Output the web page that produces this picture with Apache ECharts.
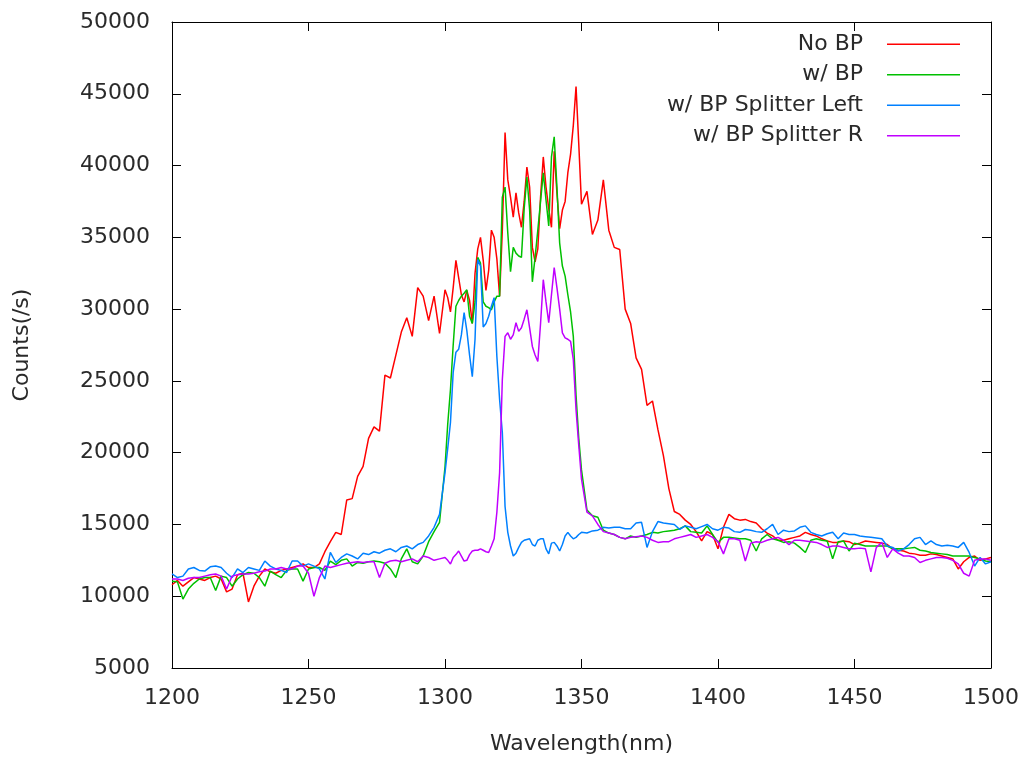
<!DOCTYPE html>
<html>
<head>
<meta charset="utf-8">
<script src="https://cdn.jsdelivr.net/npm/echarts@6/dist/echarts.min.js"></script>
<style>html,body{margin:0;padding:0;background:#fff;}#c{width:1024px;height:760px;}</style>
</head>
<body>
<div id="c"></div>
<script>
// Wavelength samples (nm): 2 nm steps, 1 nm steps across the peak
const wavelengths = [
1200,1202,1204,1206,1208,1210,1212,1214,1216,1218,1220,1222,1224,1226,1228,1230,1232,1234,1236,1238,
1240,1242,1244,1246,1248,1250,1252,1254,1256,1258,1260,1262,1264,1266,1268,1270,1272,1274,1276,1278,
1280,1282,1284,1286,1288,1290,1292,1294,1296,1298,1300,
1301,1302,1303,1304,1305,1306,1307,1308,1309,1310,1311,1312,1313,1314,1315,1316,1317,1318,1319,1320,
1321,1322,1323,1324,1325,1326,1327,1328,1329,1330,1331,1332,1333,1334,1335,1336,1337,1338,1339,1340,
1341,1342,1343,1344,1345,1346,1347,1348,1349,
1350,1352,1354,1356,1358,1360,1362,1364,1366,1368,1370,1372,1374,1376,1378,1380,1382,1384,1386,1388,
1390,1392,1394,1396,1398,1400,1402,1404,1406,1408,1410,1412,1414,1416,1418,1420,1422,1424,1426,1428,
1430,1432,1434,1436,1438,1440,1442,1444,1446,1448,1450,1452,1454,1456,1458,1460,1462,1464,1466,1468,
1470,1472,1474,1476,1478,1480,1482,1484,1486,1488,1490,1492,1494,1496,1498,1500];

const noBP = [
10800,11100,10700,11000,11300,11200,11100,11300,11400,11200,10300,10500,11500,11600,9600,10700,11400,11900,11700,11600,
11800,11900,12000,12100,12250,12000,12000,12250,13100,13800,14450,14300,16700,16800,18350,19050,21000,21800,21500,25400,
25200,26800,28400,29400,28100,31500,30900,29200,30900,28300,31350,
30800,29800,31500,33400,32200,31000,30500,31300,30600,29000,32500,34200,35000,33400,31300,32700,35500,35000,33500,30900,
35500,42300,39000,37800,36400,38100,36700,35700,37500,39900,38500,34300,33300,34200,37800,40600,38500,37000,35700,41000,
38100,35600,36900,37500,39500,40800,42800,45500,41500,
37300,38200,35200,36200,39000,35500,34300,34150,30000,29000,26600,25800,23300,23600,21600,19800,17500,15900,15700,15300,
15000,14500,13850,14500,14300,13300,14800,15700,15400,15300,15350,15200,15100,14700,14400,14200,13900,13900,14000,14100,
14200,14450,14300,14200,14000,13850,13750,13750,13850,13800,13600,13700,13850,13800,13750,13700,13600,13300,13200,13150,
13000,12950,12850,12850,12950,12900,12800,12700,12600,11900,12400,12700,12800,12500,12600,12700];

const withBP = [
11050,11000,9800,10500,10900,11200,11300,11300,10400,11400,11300,10700,11200,11500,11650,11600,11300,10700,11750,11500,
11300,11800,11900,11900,11050,11900,12000,12000,11800,12450,12200,12500,12600,12100,12350,12300,12400,12450,12400,12300,
11900,11300,12600,13300,12400,12250,12800,13800,14500,15150,19000,
22000,24400,27500,30200,30600,30900,31100,31350,29500,29000,30500,33600,33200,30500,30200,30100,29950,30500,30900,30900,
37800,38500,35300,32600,34300,33900,33700,33600,37000,39200,36900,31900,33600,35500,37500,39500,37600,35800,40600,42000,
38500,34600,33000,32300,31000,29800,28100,24000,21000,
18800,16000,15600,15500,14600,14400,14300,14100,14000,14200,14100,14200,14300,14450,14400,14500,14550,14600,14700,14900,
14500,14450,14400,14900,14300,13750,14100,14100,14050,14000,14000,13900,13150,14000,14300,14000,13900,13750,13800,13700,
13400,13050,13900,14000,13900,13850,12600,13800,13850,13150,13700,13600,13500,13500,13500,13500,13500,13300,13300,13300,
13350,13400,13200,13150,13050,13000,12950,12900,12800,12800,12800,12800,12700,12600,12450,12400];

const splitterLeft = [
11550,11300,11400,11900,12000,11800,11750,12050,12100,12000,11600,11300,11900,11650,12000,11900,11800,12450,12100,11900,
11800,11650,12450,12450,12100,12250,12100,11900,11200,13050,12350,12700,12950,12800,12600,13000,12900,13100,13000,13200,
13300,13100,13400,13500,13300,13600,13750,14200,14800,15700,18600,
20300,22100,25600,27000,27200,28200,29750,28500,26800,25300,27900,33450,33000,28750,29000,29500,30200,30800,26700,23700,
21400,16250,14450,13500,12800,13000,13400,13750,13900,13950,14000,13600,13500,13900,14000,14000,13300,12950,13700,13750,
13500,13150,13600,14200,14450,14200,14000,14100,14300,
14450,14400,14550,14600,14800,14750,14800,14800,14700,14700,15100,15150,13400,14500,15200,15100,15050,15000,14650,14900,
14800,14700,14850,15000,14700,14600,14800,14750,14500,14450,14650,14600,14500,14450,14700,15000,14300,14600,14500,14550,
14800,14900,14450,14300,14200,14350,14450,14000,14400,14300,14300,14200,14150,14100,14050,14000,13500,13400,13150,13300,
13600,14000,14100,13600,13850,13600,13500,13550,13500,13400,13750,13050,12100,12700,12250,12400];

const splitterR = [
11200,11200,11100,11250,11300,11300,11400,11500,11550,11400,10500,11400,11500,11550,11550,11600,11700,11750,11900,11900,
12000,11900,11900,12100,12100,11600,10000,11300,12100,12000,12100,12200,12300,12350,12400,12350,12400,12400,11300,12300,
12450,12500,12400,12500,12600,12400,12800,12700,12500,12600,12700,
12500,12250,12700,12900,13150,12800,12450,12500,12900,13150,13200,13200,13300,13200,13100,13050,13500,14000,15850,18600,
25100,28100,28350,27900,28200,29050,28450,28700,29300,29950,28700,27400,26800,26350,29000,32050,30500,29050,31000,32900,
31500,30000,28350,28000,27900,27750,26500,23000,20500,
18150,15850,15600,15000,14500,14400,14300,14100,14000,14100,14150,14200,14100,13900,13750,13800,13800,14000,14100,14200,
14300,14100,14200,14300,14100,13800,12950,14000,14000,13900,12450,13700,13800,13750,13900,14000,14100,13900,13600,13900,
13900,13850,13800,13750,13600,13400,13500,13500,13400,13300,13300,13350,13300,11700,13400,13750,12700,13300,13000,12800,
12800,12700,12350,12500,12600,12700,12700,12650,12500,12250,11600,11400,12500,12600,12600,12500];

const seriesNames = ['No BP', 'w/ BP', 'w/ BP Splitter Left', 'w/ BP Splitter R'];
const seriesValues = [noBP, withBP, splitterLeft, splitterR];
const seriesColors = ['#ff0000', '#00c000', '#0080ff', '#c000ff'];

const xTicks = { min: 1200, max: 1500, interval: 50 };
const yTicks = { min: 5000, max: 50000, interval: 5000 };

const FONT = 'DejaVu Sans';
const FS = 22;
const TXT = '#2a2a2a';

const chart = echarts.init(document.getElementById('c'), null, { renderer: 'canvas' });

const axisCommon = {
  axisLine: { show: true, onZero: false, lineStyle: { color: '#000', width: 1 } },
  axisTick: { show: true, inside: true, length: 9, lineStyle: { color: '#000', width: 1 } },
  splitLine: { show: false }
};

const plain = v => String(v);

const option = {
  animation: false,
  backgroundColor: '#fff',
  grid: { left: 172, right: 33, top: 22, bottom: 91, containLabel: false },
  legend: {
    orient: 'vertical',
    right: 59,
    top: 28,
    align: 'right',
    icon: 'rect',
    itemWidth: 73,
    itemHeight: 1.5,
    itemGap: 8,
    textStyle: { fontFamily: FONT, fontSize: FS, color: TXT, lineHeight: 22.5, padding: [0, 19, 0, 0] },
    data: seriesNames
  },
  xAxis: [
    Object.assign({
      type: 'value', position: 'bottom', min: xTicks.min, max: xTicks.max, interval: xTicks.interval,
      name: 'Wavelength(nm)', nameLocation: 'middle', nameGap: 65,
      nameTextStyle: { fontFamily: FONT, fontSize: FS, color: TXT },
      axisLabel: { fontFamily: FONT, fontSize: FS, color: TXT, margin: 19, formatter: plain }
    }, axisCommon),
    Object.assign({
      type: 'value', position: 'top', min: xTicks.min, max: xTicks.max, interval: xTicks.interval,
      axisLabel: { show: false }
    }, axisCommon)
  ],
  yAxis: [
    Object.assign({
      type: 'value', position: 'left', min: yTicks.min, max: yTicks.max, interval: yTicks.interval,
      name: 'Counts(/s)', nameLocation: 'middle', nameGap: 139, nameRotate: 90,
      nameTextStyle: { fontFamily: FONT, fontSize: FS, color: TXT },
      axisLabel: { fontFamily: FONT, fontSize: FS, color: TXT, margin: 22, formatter: plain }
    }, axisCommon),
    Object.assign({
      type: 'value', position: 'right', min: yTicks.min, max: yTicks.max, interval: yTicks.interval,
      axisLabel: { show: false }
    }, axisCommon)
  ],
  series: seriesNames.map((name, i) => ({
    name: name,
    type: 'line',
    xAxisIndex: 0,
    yAxisIndex: 0,
    symbol: 'none',
    showSymbol: false,
    smooth: false,
    lineStyle: { color: seriesColors[i], width: 1.5 },
    itemStyle: { color: seriesColors[i] },
    data: wavelengths.map((w, k) => [w, seriesValues[i][k]])
  }))
};

chart.setOption(option);
</script>
</body>
</html>
